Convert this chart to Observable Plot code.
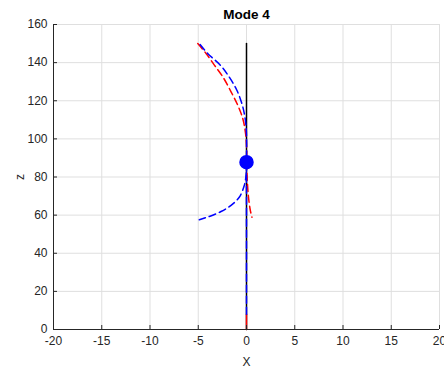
<!DOCTYPE html>
<html>
<head>
<meta charset="utf-8">
<script src="https://cdn.jsdelivr.net/npm/d3@7"></script>
<script src="https://cdn.jsdelivr.net/npm/@observablehq/plot@0.6"></script>
<style>
  html, body { margin: 0; padding: 0; background: #fff; overflow: hidden; }
</style>
</head>
<body>
<div id="chart"></div>
<script>
// Undeformed riser (black solid)
const baseX = [0, 0];
const baseZ = [0, 150];

// Red dashed mode shape
const redX = [-5.05, -4.19, -3.33, -2.46, -1.6, -0.91, -0.39, -0.12, 0, 0.03, 0.19, 0.4, 0.57];
const redZ = [150, 144.8, 138.7, 132.6, 124.7, 117.7, 110.7, 103.7, 97, 84, 70.3, 62.4, 58.9];
const redBaseX = [0, 0];
const redBaseZ = [0, 8];

// Blue dashed mode shape (upper and lower branches)
const blueUpX = [-4.81, -4.0, -2.7, -1.8, -1.0, -0.45, -0.12, 0, 0];
const blueUpZ = [149.5, 144.7, 138.6, 132.5, 125.5, 118, 110, 102, 88];
const blueLowX = [0, -0.05, -0.23, -0.75, -1.6, -2.64, -3.85, -4.89];
const blueLowZ = [88, 80.8, 75.5, 69.4, 65.1, 61.9, 59.3, 57.6];
const blueBaseX = [0, 0];
const blueBaseZ = [8, 88];

// Node marker
const nodeX = [0];
const nodeZ = [87.8];

const xTicks = [-20, -15, -10, -5, 0, 5, 10, 15, 20];
const yTicks = [0, 20, 40, 60, 80, 100, 120, 140, 160];
const titleText = "Mode 4";
const xLabel = "X";
const yLabel = "z";

const pts = (xs, zs) => xs.map((x, i) => ({x, z: zs[i]}));

const dash = "7,4";
const plot = Plot.plot({
  width: 444,
  height: 369,
  marginLeft: 53,
  marginRight: 5,
  marginTop: 24,
  marginBottom: 40,
  style: {fontFamily: "'Liberation Sans', Arial, sans-serif", fontSize: "12px", color: "#262626", background: "#fff", overflow: "visible"},
  x: {domain: [-20, 20]},
  y: {domain: [0, 160]},
  marks: [
    Plot.gridX(xTicks, {stroke: "#dfdfdf", strokeOpacity: 1}),
    Plot.gridY(yTicks, {stroke: "#dfdfdf", strokeOpacity: 1}),
    Plot.line(pts(baseX, baseZ), {x: "x", y: "z", stroke: "#000", strokeWidth: 1.5}),
    Plot.line(pts(redBaseX, redBaseZ), {x: "x", y: "z", stroke: "#ff0000", strokeWidth: 1.5}),
    Plot.line(pts(redX, redZ), {x: "x", y: "z", stroke: "#ff0000", strokeWidth: 1.5, strokeDasharray: dash, curve: "catmull-rom"}),
    Plot.line(pts(blueBaseX, blueBaseZ), {x: "x", y: "z", stroke: "#0000ff", strokeWidth: 1.5, strokeDasharray: dash}),
    Plot.line(pts(blueUpX, blueUpZ), {x: "x", y: "z", stroke: "#0000ff", strokeWidth: 1.5, strokeDasharray: dash, curve: "catmull-rom"}),
    Plot.line(pts(blueLowX, blueLowZ), {x: "x", y: "z", stroke: "#0000ff", strokeWidth: 1.5, strokeDasharray: dash, curve: "catmull-rom"}),
    Plot.dot(pts(nodeX, nodeZ), {x: "x", y: "z", r: 6.5, fill: "#0000ff", stroke: "#0000ff"}),
    Plot.axisX(xTicks, {tickSize: -4, tickPadding: 11, tickFormat: d => String(d), stroke: "#262626", fill: "#262626", fontSize: 12, label: xLabel, labelAnchor: "center", labelOffset: 36, labelArrow: "none"}),
    Plot.axisY(yTicks, {tickSize: -4, tickPadding: 10, tickFormat: d => String(d), stroke: "#262626", fill: "#262626", fontSize: 12, label: yLabel, labelAnchor: "center", labelOffset: 38, labelArrow: "none"}),
    Plot.ruleX([-20], {stroke: "#262626", strokeWidth: 1}),
    Plot.ruleY([0], {stroke: "#262626", strokeWidth: 1}),
    Plot.text([titleText], {frameAnchor: "top", dy: -10, lineAnchor: "middle", fontWeight: "bold", fontSize: 13.5, fill: "#000"})
  ]
});
document.getElementById("chart").appendChild(plot);
</script>
</body>
</html>
